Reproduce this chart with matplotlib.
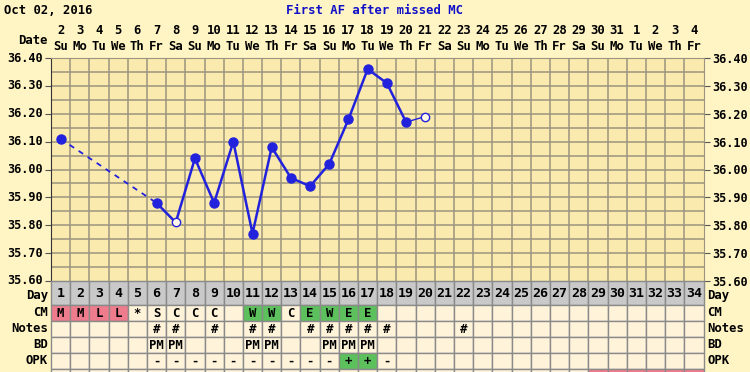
import numpy as np
import matplotlib
matplotlib.use("Agg")
import matplotlib.pyplot as plt
from matplotlib.transforms import blended_transform_factory

# =========================
# DATA
# =========================
date_nums = [str(d) for d in range(2, 32)] + ["1", "2", "3", "4"]
weekdays = (["Su", "Mo", "Tu", "We", "Th", "Fr", "Sa"] * 5)[:34]
cycle_days = list(range(1, 35))

temp_days = [1, 6, 7, 8, 9, 10, 11, 12, 13, 14, 15, 16, 17, 18, 19, 20]
temps = [36.11, 35.88, 35.81, 36.04, 35.88, 36.10, 35.77, 36.08,
         35.97, 35.94, 36.02, 36.18, 36.36, 36.31, 36.17, 36.19]
open_days = [7, 20]

cm_vals = ["M", "M", "L", "L", "*", "S", "C", "C", "C", "", "W", "W", "C", "E", "W", "E", "E"]
cm_pink = [1, 2, 3, 4]
cm_green = [11, 12, 14, 15, 16, 17]
notes_days = [6, 7, 9, 11, 12, 14, 15, 16, 17, 18, 22]
bd_days = [6, 7, 11, 12, 15, 16, 17]
opk_minus = [6, 7, 8, 9, 10, 11, 12, 13, 14, 15, 18]
opk_plus = [16, 17]
extra_pink = [29, 30, 31, 32, 33, 34]

# =========================
# STYLE
# =========================
W, H = 750, 372
BG = "#FFF4C4"
PLOT_BG = "#FAEAAE"
GRID = "#9C9480"
CELL = "#FFF3DA"
DAYROW = "#C9C9C9"
PINK = "#EE7C8C"
GREEN = "#5CC05C"
BLUE = "#2222DD"
FONT = dict(family="DejaVu Sans Mono", weight="bold", size=8.8)


def fx(px):
    return px / W


def fy(py):
    return 1 - py / H


fig = plt.figure(figsize=(7.5, 3.72), dpi=100)
fig.patch.set_facecolor(BG)

# =========================
# TEMPERATURE CHART
# =========================
ax = fig.add_axes([fx(51), fy(281), fx(703.5) - fx(51), fy(58) - fy(281)])
ax.set_facecolor(PLOT_BG)
ax.set_xlim(0.5, 34.5)
ax.set_ylim(35.60, 36.40)

for v in np.arange(35.65, 36.40, 0.05):
    ax.axhline(v, color=GRID, lw=1.1, zorder=1)
for k in range(1, 34):
    ax.axvline(k + 0.5, color=GRID, lw=1.1, zorder=1)

for s in ["top", "right", "bottom"]:
    ax.spines[s].set_color(GRID)
ax.spines["left"].set_color("#333333")
ax.set_xticks([])
yt = np.arange(35.60, 36.41, 0.10)
ax.set_yticks(yt)
ax.set_yticklabels([f"{v:.2f}" for v in yt])
ax.tick_params(axis="y", length=4, color="#555555", pad=2, right=True, labelright=True,
               labelsize=8.5)
for lab in ax.get_yticklabels() + ax.yaxis.get_ticklabels(which="both"):
    lab.set_fontfamily(FONT["family"])
    lab.set_fontweight("bold")
for t in ax.yaxis.get_major_ticks():
    t.label2.set_fontfamily(FONT["family"])
    t.label2.set_fontweight("bold")
    t.label1.set_verticalalignment("center")

# dashed segment across missing days
ax.plot(temp_days[:2], temps[:2], ls=(0, (3, 3)), color=BLUE, lw=1.3, zorder=3)
# main line
ax.plot(temp_days[1:-1], temps[1:-1], color=BLUE, lw=1.8, zorder=3)
# thin tail
ax.plot(temp_days[-2:], temps[-2:], color=BLUE, lw=1.0, zorder=3)

filled = [(d, t) for d, t in zip(temp_days, temps) if d not in open_days]
hollow = [(d, t) for d, t in zip(temp_days, temps) if d in open_days]
ax.plot([d for d, _ in filled], [t for _, t in filled], "o", color=BLUE, ms=6.5, zorder=4)
ax.plot([d for d, _ in hollow], [t for _, t in hollow], "o", mfc="#FFF8E8",
        mec=BLUE, mew=1.0, ms=6, zorder=4)

# header rows
tr = blended_transform_factory(ax.transData, fig.transFigure)
for d, num, wd in zip(cycle_days, date_nums, weekdays):
    ax.text(d, fy(30), num, transform=tr, ha="center", va="center", **FONT)
    ax.text(d, fy(46), wd, transform=tr, ha="center", va="center", **FONT)
fig.text(fx(48), fy(40), "Date", ha="right", va="center", **FONT)
fig.text(fx(4), fy(10), "Oct 02, 2016", ha="left", va="center", **FONT)
fig.text(fx(375), fy(10), "First AF after missed MC", ha="center", va="center",
         color="#1010C8", **FONT)

# =========================
# TABLE BELOW
# =========================
tax = fig.add_axes([fx(51), 0, fx(703.5) - fx(51), fy(281)])
tax.set_xlim(0.5, 34.5)
tax.set_ylim(372, 281)
tax.axis("off")

rows = [("Day", 281, 305), ("CM", 305, 321), ("Notes", 321, 337),
        ("BD", 337, 353), ("OPK", 353, 369), ("", 369, 385)]


def row_colors(name):
    cols = []
    for d in cycle_days:
        c = CELL
        if name == "Day":
            c = DAYROW
        elif name == "CM" and d in cm_pink:
            c = PINK
        elif name == "CM" and d in cm_green:
            c = GREEN
        elif name == "OPK" and d in opk_plus:
            c = GREEN
        elif name == "" and d in extra_pink:
            c = PINK
        cols.append(c)
    return cols


for name, top, bot in rows:
    tax.bar(cycle_days, bot - top, bottom=top, width=1.0, color=row_colors(name),
            edgecolor="#8A8A8A", lw=1.0, clip_on=False)
    if name:
        mid = (top + bot) / 2 + (3 if name == "Day" else 0)
        fig.text(fx(48), fy(mid), name, ha="right", va="center", **FONT)
        fig.text(fx(707), fy(mid), name, ha="left", va="center", **FONT)

for d in cycle_days:
    tax.text(d, 293.5, str(d), ha="center", va="center", fontfamily=FONT["family"],
             fontweight="bold", fontsize=9.5)
for d, v in zip(cycle_days, cm_vals):
    if v:
        tax.text(d, 313.5, v, ha="center", va="center", **FONT)
for d in notes_days:
    tax.text(d, 329.5, "#", ha="center", va="center", **FONT)
for d in bd_days:
    tax.text(d, 345.5, "PM", ha="center", va="center", **FONT)
for d in opk_minus:
    tax.text(d, 361.5, "-", ha="center", va="center", **FONT)
for d in opk_plus:
    tax.text(d, 361.5, "+", ha="center", va="center", **FONT)

fig.savefig("out.png", dpi=100, facecolor=BG)
